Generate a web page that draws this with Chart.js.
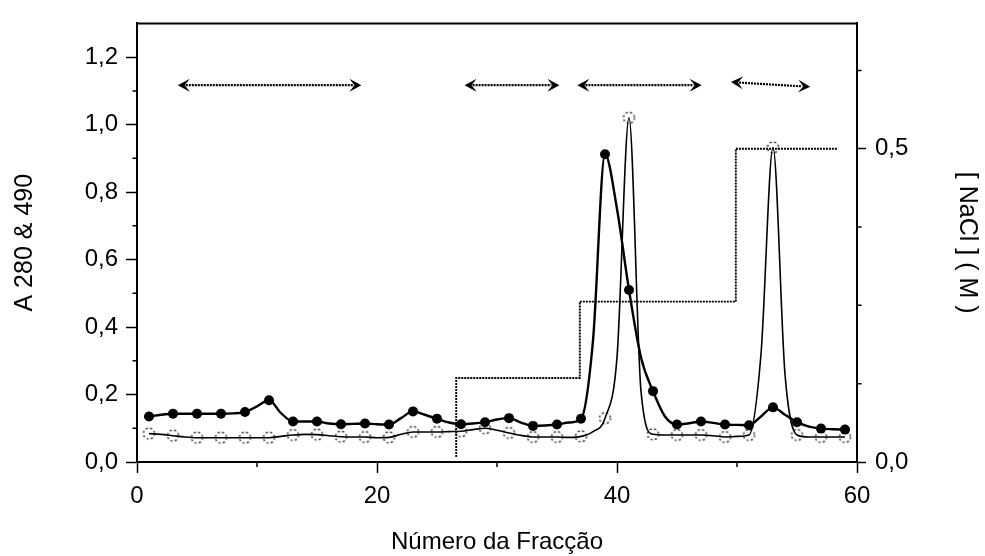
<!DOCTYPE html>
<html>
<head>
<meta charset="utf-8">
<title>Fracções</title>
<script src="https://cdn.jsdelivr.net/npm/chart.js@4.4.1/dist/chart.umd.min.js"></script>
<style>
    html, body { margin: 0; padding: 0; background: #fff; }
    #wrap { width: 985px; height: 556px; position: relative; }
</style>
</head>
<body>
<div id="wrap"><canvas id="chart"></canvas></div>
<script>

// =========================
// DATA
// =========================

const fractions = [
    1, 2, 3, 4, 5, 6, 7, 8, 9, 10,
    11, 12, 13, 14, 15, 16, 17, 18, 19, 20,
    21, 22, 23, 24, 25, 26, 27, 28, 29, 30,
    31, 32, 33, 34, 35, 36, 37, 38, 39, 40,
    41, 42, 43, 44, 45, 46, 47, 48, 49, 50,
    51, 52, 53, 54, 55, 56, 57, 58, 59
];

// A280 (filled markers)
const a280 = [
    0.135, 0.140, 0.143, 0.143, 0.143, 0.143, 0.143, 0.144, 0.148, 0.165,
    0.183, 0.145, 0.120, 0.120, 0.120, 0.114, 0.112, 0.113, 0.114, 0.112,
    0.111, 0.130, 0.150, 0.140, 0.128, 0.117, 0.112, 0.114, 0.118, 0.126,
    0.130, 0.117, 0.107, 0.108, 0.111, 0.117, 0.128, 0.360, 0.912, 0.750,
    0.510, 0.310, 0.210, 0.135, 0.111, 0.115, 0.120, 0.116, 0.111, 0.110,
    0.109, 0.135, 0.162, 0.140, 0.118, 0.105, 0.099, 0.097, 0.096
];

// A490 (open dashed markers)
const a490 = [
    0.084, 0.082, 0.078, 0.074, 0.072, 0.072, 0.072, 0.072, 0.072, 0.072,
    0.072, 0.076, 0.080, 0.082, 0.081, 0.078, 0.075, 0.074, 0.074, 0.072,
    0.073, 0.082, 0.089, 0.089, 0.089, 0.090, 0.091, 0.096, 0.100, 0.094,
    0.086, 0.079, 0.074, 0.074, 0.074, 0.073, 0.076, 0.090, 0.130, 0.310,
    1.020, 0.210, 0.082, 0.080, 0.080, 0.080, 0.080, 0.078, 0.074, 0.076,
    0.080, 0.320, 0.932, 0.260, 0.080, 0.074, 0.074, 0.074, 0.074
];

// [NaCl] gradient steps (M)
const saltFraction = [26.6, 36.9, 49.9, 58.4];
const saltConc = [0.008, 0.134, 0.256, 0.5];

// pooled fractions (arrows)
const poolStart = [3.4, 27.3, 36.7, 49.5];
const poolEnd = [18.7, 35.2, 47.05, 56.1];
const poolLevelStart = [1.117, 1.117, 1.117, 1.126];
const poolLevelEnd = [1.117, 1.117, 1.117, 1.112];

// ticks
const xTicks = [0, 20, 40, 60];
const xMinor = [10, 30, 50];
const yTicks = [0, 0.2, 0.4, 0.6, 0.8, 1.0, 1.2];
const yMinor = [0.1, 0.3, 0.5, 0.7, 0.9, 1.1];
const rTicks = [0, 0.5];
const rMinor = [0.125, 0.25, 0.375, 0.625];

// =========================
// HELPERS
// =========================

const FONT = "'Liberation Sans', Arial, sans-serif";

function dashedRing(r) {
    const c = document.createElement("canvas");
    const s = Math.ceil(r * 2 + 4);
    c.width = s;
    c.height = s;
    const g = c.getContext("2d");
    g.strokeStyle = "#000";
    g.lineWidth = 1.2;
    g.setLineDash([2, 2.4]);
    g.beginPath();
    g.arc(s / 2, s / 2, r, 0, Math.PI * 2);
    g.stroke();
    return c;
}

const ring = dashedRing(5.5);

const comma = v => v.toFixed(1).replace(".", ",");

function drawArrowHead(ctx, x, y, ang) {
    ctx.save();
    ctx.translate(x, y);
    ctx.rotate(ang);
    ctx.beginPath();
    ctx.moveTo(0, 0);
    ctx.lineTo(-12, -6.5);
    ctx.lineTo(-7, 0);
    ctx.lineTo(-12, 6.5);
    ctx.closePath();
    ctx.fill();
    ctx.restore();
}

// =========================
// EXTRAS PLUGIN
// =========================

const extras = {
    id: "extras",
    afterDraw(chart) {
        const ctx = chart.ctx;
        const area = chart.chartArea;
        const xs = chart.scales.x;
        const ys = chart.scales.y;
        const rs = chart.scales.y2;

        ctx.save();
        ctx.strokeStyle = "#000";
        ctx.fillStyle = "#000";

        // top frame
        ctx.lineWidth = 2;
        ctx.beginPath();
        ctx.moveTo(area.left - 1, area.top);
        ctx.lineTo(area.right + 1, area.top);
        ctx.stroke();

        // minor ticks
        ctx.lineWidth = 1.5;
        ctx.beginPath();
        xMinor.forEach(v => {
            const px = xs.getPixelForValue(v);
            ctx.moveTo(px, area.bottom);
            ctx.lineTo(px, area.bottom + 5);
        });
        yMinor.forEach(v => {
            const py = ys.getPixelForValue(v);
            ctx.moveTo(area.left, py);
            ctx.lineTo(area.left - 4.5, py);
        });
        rMinor.forEach(v => {
            const py = rs.getPixelForValue(v);
            ctx.moveTo(area.right, py);
            ctx.lineTo(area.right + 4.5, py);
        });
        ctx.stroke();

        // pooling arrows
        for (let i = 0; i < poolStart.length; i++) {
            const x1 = xs.getPixelForValue(poolStart[i]);
            const x2 = xs.getPixelForValue(poolEnd[i]);
            const y1 = ys.getPixelForValue(poolLevelStart[i]);
            const y2 = ys.getPixelForValue(poolLevelEnd[i]);
            const ang = Math.atan2(y2 - y1, x2 - x1);
            const dx = Math.cos(ang) * 8;
            const dy = Math.sin(ang) * 8;

            ctx.save();
            ctx.lineWidth = 2.2;
            ctx.setLineDash([2, 1]);
            ctx.beginPath();
            ctx.moveTo(x1 + dx, y1 + dy);
            ctx.lineTo(x2 - dx, y2 - dy);
            ctx.stroke();
            ctx.restore();

            drawArrowHead(ctx, x2, y2, ang);
            drawArrowHead(ctx, x1, y1, ang + Math.PI);
        }

        ctx.restore();
    }
};

// =========================
// CHART
// =========================

const odd = c => c.dataIndex % 2 === 0;

new Chart(document.getElementById("chart"), {
    type: "line",
    data: {
        datasets: [
            {
                label: "A280",
                data: fractions.map((f, i) => ({ x: f, y: a280[i] })),
                yAxisID: "y",
                borderColor: "#000",
                borderWidth: 2.4,
                backgroundColor: "#000",
                cubicInterpolationMode: "monotone",
                pointStyle: "circle",
                pointRadius: c => odd(c) ? 5 : 0,
                pointBorderWidth: 0,
                pointBackgroundColor: "#000"
            },
            {
                label: "A490",
                data: fractions.map((f, i) => ({ x: f, y: a490[i] })),
                yAxisID: "y",
                borderColor: "#000",
                borderWidth: 1.6,
                cubicInterpolationMode: "monotone",
                pointStyle: ring,
                pointRadius: c => odd(c) ? 5.5 : 0
            },
            {
                label: "NaCl",
                data: saltFraction.map((f, i) => ({ x: f, y: saltConc[i] })),
                yAxisID: "y2",
                borderColor: "#000",
                borderWidth: 1.9,
                borderDash: [2, 1],
                stepped: "after",
                pointRadius: 0
            }
        ]
    },
    options: {
        responsive: true,
        maintainAspectRatio: false,
        animation: false,
        events: [],
        layout: { padding: { top: 15, left: 0, right: 0, bottom: 0 } },
        plugins: {
            legend: { display: false },
            tooltip: { enabled: false }
        },
        scales: {
            x: {
                type: "linear",
                position: "bottom",
                min: 0,
                max: 60,
                afterBuildTicks: s => { s.ticks = xTicks.map(v => ({ value: v })); },
                afterFit: s => { s.height = 94; },
                ticks: {
                    color: "#000",
                    padding: 9,
                    maxRotation: 0,
                    font: { family: FONT, size: 24 },
                    callback: v => String(v)
                },
                grid: {
                    drawOnChartArea: false,
                    tickLength: 11,
                    tickWidth: 1.5,
                    tickColor: "#000"
                },
                border: { display: true, color: "#000", width: 2 },
                title: {
                    display: true,
                    text: "Número da Fracção",
                    color: "#000",
                    padding: { top: 0, bottom: 0 },
                    font: { family: FONT, size: 24, lineHeight: 1.1 }
                }
            },
            y: {
                type: "linear",
                position: "left",
                min: 0,
                max: 1.3,
                afterBuildTicks: s => { s.ticks = yTicks.map(v => ({ value: v })); },
                afterFit: s => { s.width = 137; },
                ticks: {
                    color: "#000",
                    padding: 8,
                    font: { family: FONT, size: 24 },
                    callback: v => comma(v)
                },
                grid: {
                    drawOnChartArea: false,
                    tickLength: 11,
                    tickWidth: 1.5,
                    tickColor: "#000"
                },
                border: { display: true, color: "#000", width: 2 },
                title: {
                    display: true,
                    text: "A 280 & 490",
                    color: "#000",
                    padding: { top: 10, bottom: 0 },
                    font: { family: FONT, size: 25 }
                }
            },
            y2: {
                type: "linear",
                position: "right",
                min: 0,
                max: 0.7,
                afterBuildTicks: s => { s.ticks = rTicks.map(v => ({ value: v })); },
                afterFit: s => { s.width = 128; },
                ticks: {
                    color: "#000",
                    padding: 9,
                    font: { family: FONT, size: 24 },
                    callback: v => comma(v)
                },
                grid: {
                    drawOnChartArea: false,
                    tickLength: 9,
                    tickWidth: 1.5,
                    tickColor: "#000"
                },
                border: { display: true, color: "#000", width: 2 },
                title: {
                    display: true,
                    text: "[ NaCl ] ( M )",
                    color: "#000",
                    padding: { top: 3, bottom: 0 },
                    font: { family: FONT, size: 25 }
                }
            }
        }
    },
    plugins: [extras]
});

</script>
</body>
</html>
